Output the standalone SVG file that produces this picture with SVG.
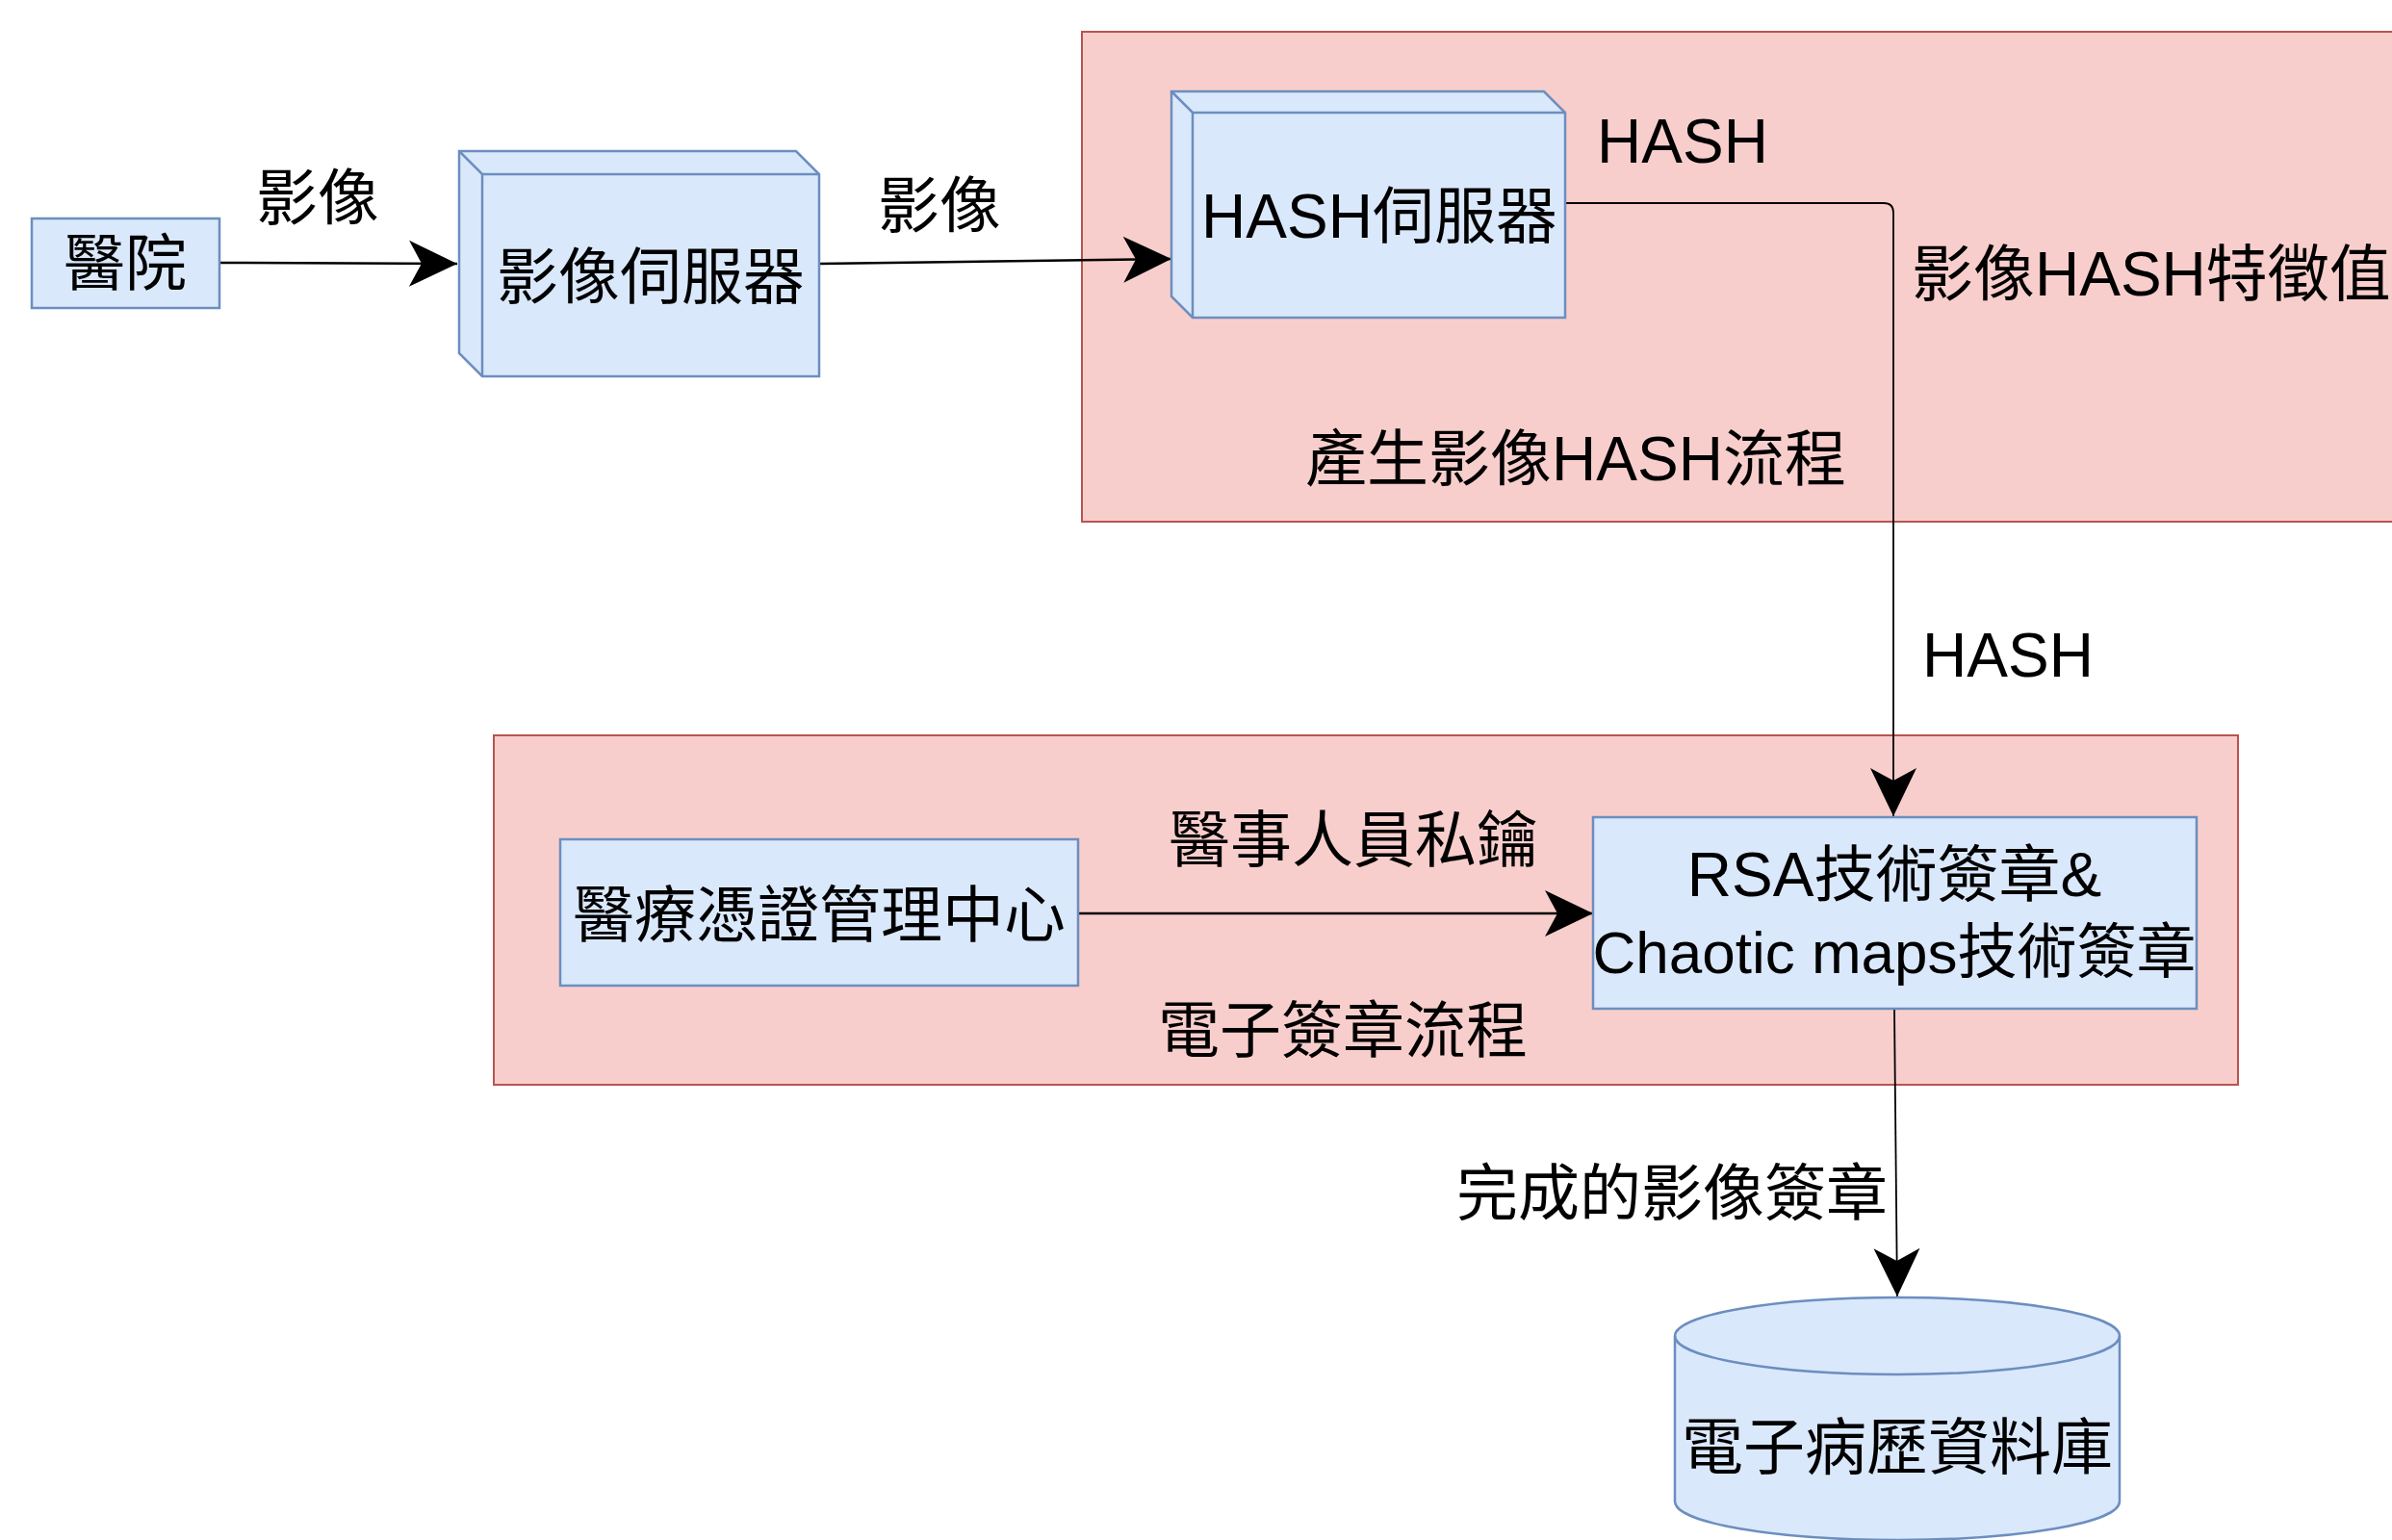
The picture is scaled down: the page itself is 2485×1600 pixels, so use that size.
<svg xmlns="http://www.w3.org/2000/svg" width="2485" height="1600" viewBox="0 0 2485 1600">
<style>
  .grp { fill: #f8cecc; stroke: #b85450; stroke-width: 2; }
  .node { fill: #dae8fc; stroke: #6c8ebf; stroke-width: 2.5; }
  .t { font-family: "Liberation Sans", "Noto Sans CJK TC", sans-serif; font-size: 64px; fill: #000; text-anchor: middle; dominant-baseline: central; }
  .edge { fill: none; stroke: #000; }
</style>
<defs>
  <marker id="arr" markerUnits="userSpaceOnUse" markerWidth="52" markerHeight="52" viewBox="-51 -26 52 52" refX="0" refY="0" orient="auto">
    <path d="M0,0 L-50,-24 L-37,0 L-50,24 Z" fill="#000"/>
  </marker>
</defs>
<rect width="2485" height="1600" fill="#ffffff"/>

<g id="group-hash">
  <rect class="grp" x="1124" y="33" width="1400" height="509"/>
  <text class="t" x="1637" y="477">產生影像HASH流程</text>
</g>
<g id="group-sign">
  <rect class="grp" x="513" y="764" width="1812" height="363"/>
  <text class="t" x="1395" y="1071">電子簽章流程</text>
</g>

<g id="connectors">
  <path class="edge" stroke-width="2.5" d="M228,273 L475,274" marker-end="url(#arr)"/>
  <path class="edge" stroke-width="2.5" d="M851,274 L1217,269" marker-end="url(#arr)"/>
  <path class="edge" stroke-width="1.8" d="M1626,211 H1957 Q1967,211 1967,221 V848" marker-end="url(#arr)"/>
  <path class="edge" stroke-width="2.5" d="M1120,949 L1655,949" marker-end="url(#arr)"/>
  <path class="edge" stroke-width="1.8" d="M1968,1048 L1971,1347" marker-end="url(#arr)"/>
  <text class="t" x="330" y="206">影像</text>
  <text class="t" x="976" y="214">影像</text>
  <text class="t" x="1748" y="147">HASH</text>
  <text class="t" x="1986" y="285" style="text-anchor:start">影像HASH特徵值</text>
  <text class="t" x="2086" y="681">HASH</text>
  <text class="t" x="1406" y="873">醫事人員私鑰</text>
  <text class="t" x="1737" y="1240">完成的影像簽章</text>
</g>

<g id="node-hospital">
  <rect class="node" x="33" y="227" width="195" height="93"/>
  <text class="t" x="130" y="274">醫院</text>
</g>

<g id="node-image-server">
  <path class="node" d="M477,157 H827 L851,181 V391 H501 L477,367 Z"/>
  <path class="node" style="fill:none" d="M477,157 L501,181 H851 M501,181 V391"/>
  <text class="t" x="676" y="288">影像伺服器</text>
</g>

<g id="node-hash-server">
  <path class="node" d="M1217,95 H1604 L1626,117 V330 H1239 L1217,308 Z"/>
  <path class="node" style="fill:none" d="M1217,95 L1239,117 H1626 M1239,117 V330"/>
  <text class="t" x="1433" y="225">HASH伺服器</text>
</g>

<g id="node-cert-center">
  <rect class="node" x="582" y="872" width="538" height="152"/>
  <text class="t" x="851" y="951">醫療憑證管理中心</text>
</g>

<g id="node-rsa">
  <rect class="node" x="1655" y="849" width="627" height="199"/>
  <text class="t" x="1968" y="909">RSA技術簽章&amp;</text>
  <text class="t" x="1968" y="989" style="font-size:62px">Chaotic maps技術簽章</text>
</g>

<g id="node-db">
  <path class="node" d="M1740,1388 A231,40 0 0 1 2202,1388 V1560 A231,40 0 0 1 1740,1560 Z"/>
  <path class="node" style="fill:none" d="M1740,1388 A231,40 0 0 0 2202,1388"/>
  <text class="t" x="1971" y="1504">電子病歷資料庫</text>
</g>
</svg>
